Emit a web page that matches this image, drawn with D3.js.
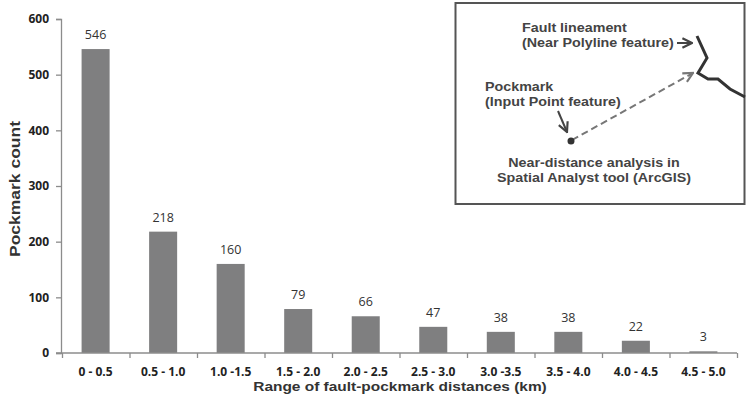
<!DOCTYPE html>
<html><head><meta charset="utf-8">
<script src="https://cdn.jsdelivr.net/npm/d3@7"></script>
<style>body{margin:0;background:#fff}svg{display:block}</style>
</head><body>
<script>
const categories = ["0 - 0.5","0.5 - 1.0","1.0 -1.5","1.5 - 2.0","2.0 - 2.5","2.5 - 3.0","3.0 -3.5","3.5 - 4.0","4.0 - 4.5","4.5 - 5.0"];
const counts = [546,218,160,79,66,47,38,38,22,3];
const yTicks = [0,100,200,300,400,500,600];

const W=748,H=395;
const svg=d3.select("body").append("svg").attr("width",W).attr("height",H);
const x=d3.scaleBand().domain(categories).range([62,737]).paddingInner(0.585).paddingOuter(0.29);
const y=d3.scaleLinear().domain([0,600]).range([353,19]);
const axisCol="#8c8c8c";
const sans="'Open Sans',sans-serif";
const arial="Arial,'Liberation Sans',sans-serif";

// bars
svg.selectAll("rect.bar").data(counts).join("rect").attr("class","bar")
  .attr("x",(d,i)=>x(categories[i])).attr("width",x.bandwidth())
  .attr("y",d=>y(d)).attr("height",d=>y(0)-y(d)).attr("fill","#7f7f80");
svg.selectAll("text.val").data(counts).join("text").attr("class","val")
  .attr("x",(d,i)=>x(categories[i])+x.bandwidth()/2).attr("y",d=>y(d)-10)
  .attr("text-anchor","middle").attr("font-family",sans).attr("font-size",12.5).attr("fill","#333")
  .text(d=>d);

// y axis
const ya=svg.append("g").attr("transform","translate(61,0)")
  .call(d3.axisLeft(y).tickValues(yTicks).tickSize(5).tickPadding(7));
ya.select(".domain").attr("stroke",axisCol).attr("stroke-width",1.3);
ya.selectAll(".tick line").attr("stroke",axisCol).attr("stroke-width",1.3);
ya.selectAll("text").attr("font-family",sans).attr("font-weight","bold").attr("font-size",12).attr("fill","#222");

// x axis
const xb=d3.scaleLinear().domain([0,categories.length]).range([62,737]);
const xa=svg.append("g").attr("transform","translate(0,353)")
  .call(d3.axisBottom(xb).tickValues(d3.range(categories.length+1)).tickSize(5).tickFormat(""));
xa.select(".domain").attr("d","M56,0H737").attr("stroke",axisCol).attr("stroke-width",1.3);
xa.selectAll(".tick line").attr("stroke",axisCol).attr("stroke-width",1.3);
svg.append("g").selectAll("text").data(categories).join("text")
  .attr("x",d=>x(d)+x.bandwidth()/2).attr("y",376).attr("text-anchor","middle")
  .attr("font-family",sans).attr("font-weight","bold").attr("font-size",12).attr("fill","#222")
  .text(d=>d);

// axis titles (horizontally stretched like the reference)
svg.append("g").attr("transform","translate(400,391) scale(1.19,1)").append("text").attr("text-anchor","middle")
  .attr("font-family",arial).attr("font-weight","bold").attr("font-size",13).attr("fill","#333")
  .text("Range of fault-pockmark distances (km)");
svg.append("g").attr("transform","translate(20,189) rotate(-90) scale(1.25,1)").append("text").attr("text-anchor","middle")
  .attr("font-family",arial).attr("font-weight","bold").attr("font-size",14).attr("fill","#333")
  .text("Pockmark count");

// inset
const ink="#444";
svg.append("rect").attr("x",455.5).attr("y",3).attr("width",289).attr("height",201)
  .attr("fill","#fff").attr("stroke","#555").attr("stroke-width",2);
const defs=svg.append("defs");
function marker(id,col){
  defs.append("marker").attr("id",id).attr("viewBox","0 0 10 10").attr("refX",9).attr("refY",5)
   .attr("markerWidth",6).attr("markerHeight",6).attr("orient","auto").attr("markerUnits","strokeWidth")
   .append("path").attr("d","M1,1L9,5L1,9").attr("fill","none").attr("stroke",col).attr("stroke-width",1.8);
}
marker("ah1",ink); marker("ah2","#777");
function t(xx,yy,s,anchor){svg.append("g").attr("transform",`translate(${xx},${yy}) scale(1.1,1)`).append("text")
  .attr("text-anchor",anchor||"start")
  .attr("font-family",arial).attr("font-weight","bold").attr("font-size",13).attr("fill",ink).text(s);}
t(522,32,"Fault lineament");
t(522,47,"(Near Polyline feature)");
t(485,91,"Pockmark");
t(485,106,"(Input Point feature)");
t(594,167,"Near-distance analysis in","middle");
t(594,182,"Spatial Analyst tool (ArcGIS)","middle");
const line=d3.line();
svg.append("path").attr("d",line([[677,43],[692,43]])).attr("stroke",ink).attr("stroke-width",2).attr("fill","none").attr("marker-end","url(#ah1)");
svg.append("path").attr("d",line([[697,36],[707,58],[698,73],[708,79],[718,79],[730,89],[745,97]]))
  .attr("stroke","#333").attr("stroke-width",3).attr("fill","none").attr("stroke-linejoin","miter");
svg.append("path").attr("d",line([[558,111],[567,132]])).attr("stroke",ink).attr("stroke-width",2).attr("fill","none").attr("marker-end","url(#ah1)");
svg.append("path").attr("d",line([[572,140],[693,73]])).attr("stroke","#777").attr("stroke-width",2).attr("stroke-dasharray","7,4").attr("fill","none").attr("marker-end","url(#ah2)");
svg.append("circle").attr("cx",571).attr("cy",141).attr("r",3.5).attr("fill","#333");
</script>
</body></html>
